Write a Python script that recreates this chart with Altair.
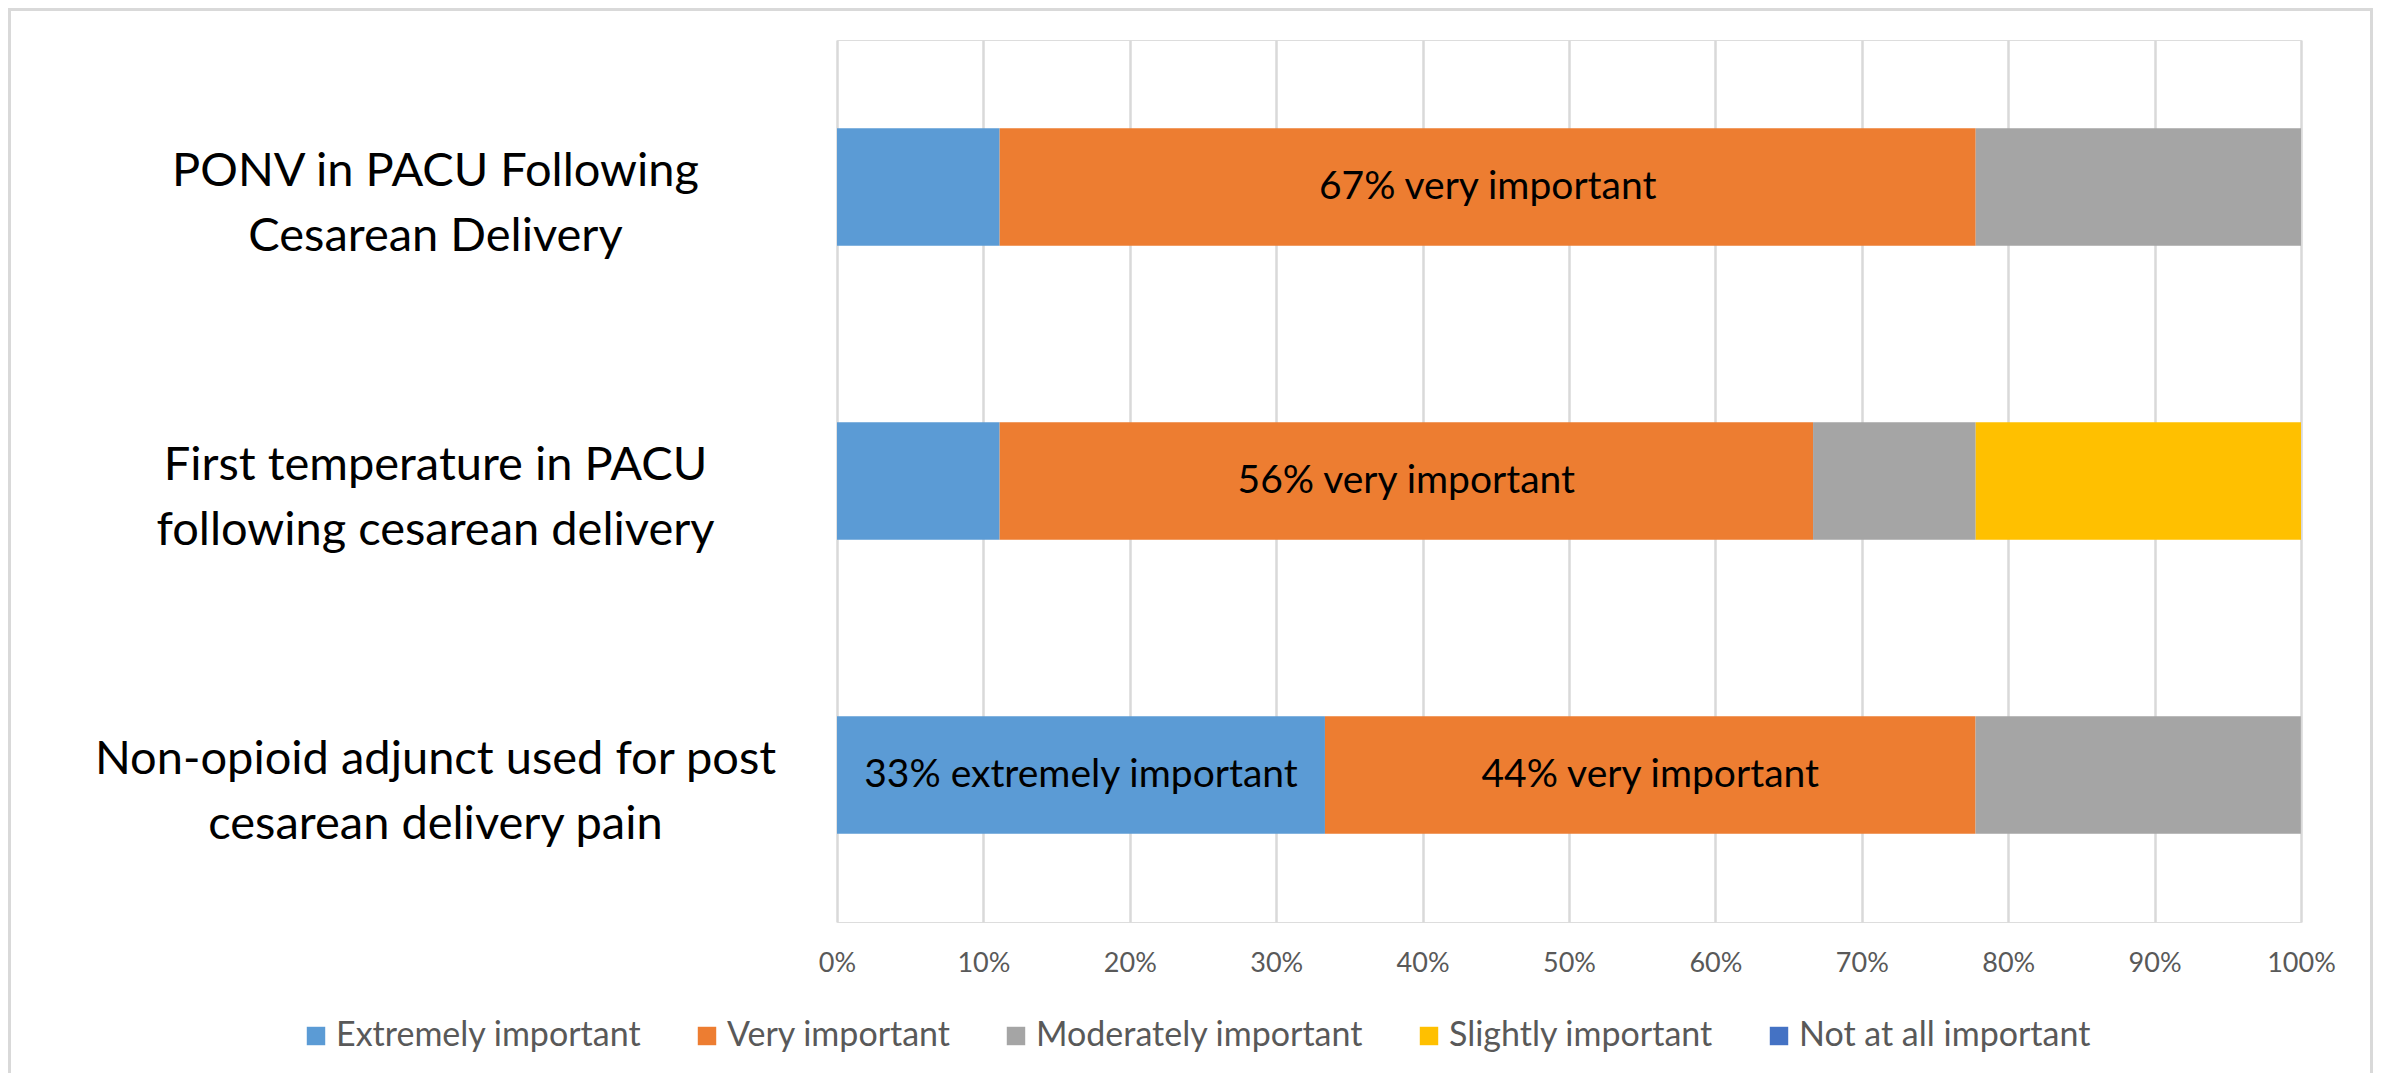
import altair as alt
import pandas as pd

categories = [
    "PONV in PACU Following\nCesarean Delivery",
    "First temperature in PACU\nfollowing cesarean delivery",
    "Non-opioid adjunct used for post\ncesarean delivery pain",
]
levels = [
    "Extremely important",
    "Very important",
    "Moderately important",
    "Slightly important",
    "Not at all important",
]
colors = ["#5B9BD5", "#ED7D31", "#A5A5A5", "#FFC000", "#4472C4"]

extremely = [0.1111, 0.1111, 0.3333]
very = [0.6667, 0.5556, 0.4444]
moderately = [0.2222, 0.1111, 0.2222]
slightly = [0.0, 0.2222, 0.0]
not_at_all = [0.0, 0.0, 0.0]

label_extremely = ["", "", "33% extremely important"]
label_very = ["67% very important", "56% very important", "44% very important"]
label_moderately = ["", "", ""]
label_slightly = ["", "", ""]
label_not = ["", "", ""]

tick_values = [0, 0.1, 0.2, 0.3, 0.4, 0.5, 0.6, 0.7, 0.8, 0.9, 1.0]

series = [extremely, very, moderately, slightly, not_at_all]
labels = [label_extremely, label_very, label_moderately, label_slightly, label_not]

rows = []
for li, (lvl, vals, labs) in enumerate(zip(levels, series, labels)):
    for ci, cat in enumerate(categories):
        rows.append({"category": cat, "level": lvl, "rank": li,
                     "value": vals[ci], "label": labs[ci]})
df = pd.DataFrame(rows)

FONT = "Lato"
W, H = 1464, 882

base = alt.Chart(df).transform_stack(
    stack="value", groupby=["category"], as_=["start", "end"],
    sort=[alt.SortField("rank", order="ascending")]
).transform_calculate(mid="(datum.start + datum.end) / 2")

y_enc = alt.Y(
    "category:N", sort=categories, title=None,
    scale=alt.Scale(paddingInner=0.6, paddingOuter=0.3),
    axis=alt.Axis(
        labelExpr="split(datum.value, '\\n')",
        labelAlign="center", labelPadding=402, labelLimit=900,
        labelFontSize=47, labelFont=FONT, labelColor="#000000",
        labelLineHeight=65, labelOffset=-15,
        ticks=False, domain=False, grid=False,
    ),
)

bars = base.mark_bar(strokeWidth=0).encode(
    x=alt.X(
        "start:Q", title=None,
        scale=alt.Scale(domain=[0, 1], nice=False, zero=True),
        axis=alt.Axis(
            values=tick_values, format=".0%", grid=True, gridColor="#D9D9D9",
            gridWidth=2.5, domain=False, ticks=False, tickSize=0,
            labelFontSize=27, labelFont=FONT, labelColor="#595959",
            labelPadding=28, labelFlush=False,
        ),
    ),
    x2="end:Q",
    y=y_enc,
    color=alt.Color(
        "level:N",
        scale=alt.Scale(domain=levels, range=colors),
        legend=alt.Legend(
            title=None, orient="none", direction="horizontal", columns=5,
            legendX=-538, legendY=979, labelFontSize=34, labelFont=FONT,
            labelColor="#595959", labelLimit=600, symbolType="square",
            symbolSize=340, symbolStrokeWidth=0, labelOffset=3,
            columnPadding=48, padding=0,
        ),
    ),
    order=alt.Order("rank:Q"),
)

texts = base.transform_filter("datum.label != ''").mark_text(
    font=FONT, fontSize=39, color="#000000", align="center", baseline="middle"
).encode(
    x=alt.X("mid:Q"),
    y=alt.Y("category:N", sort=categories),
    text="label:N",
)

frame = alt.Chart(alt.Data(values=[{"f": 1}])).mark_rect(
    fill=None, stroke="#D9D9D9", strokeWidth=3
).encode(
    x=alt.value(-827.5), x2=alt.value(1534.5),
    y=alt.value(-30.5), y2=alt.value(1150),
)

chart = alt.layer(frame, bars, texts).properties(
    width=W, height=H,
    autosize=alt.AutoSizeParams(type="none"),
    padding={"left": 829, "top": 32, "right": 72, "bottom": 151},
).configure_view(stroke=None).configure(background="#FFFFFF")

chart.save("out.html", embed_options={"renderer": "svg", "actions": False})
